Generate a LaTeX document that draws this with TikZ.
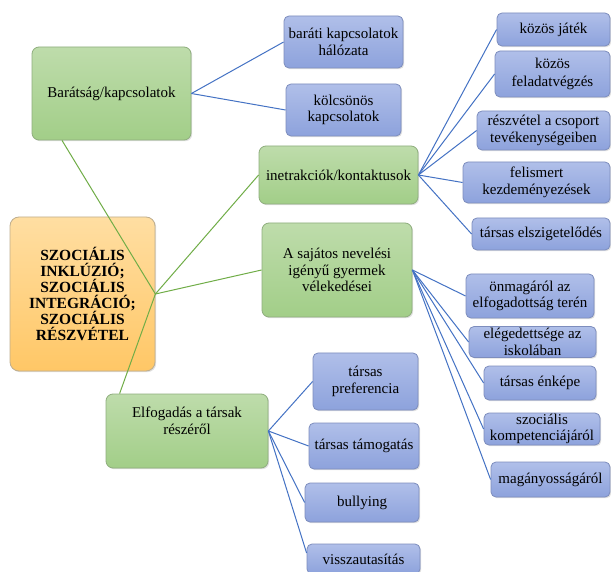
\documentclass[tikz,border=0pt]{standalone}
\usepackage{fontspec}
\setmainfont{Liberation Serif}
\usetikzlibrary{shadows}
\definecolor{gtop}{HTML}{BEDCAB}
\definecolor{gbot}{HTML}{A2CE88}
\definecolor{gline}{HTML}{8FAE7E}
\definecolor{btop}{HTML}{B0BFE9}
\definecolor{bbot}{HTML}{8DA2DC}
\definecolor{bline}{HTML}{7D8DBD}
\definecolor{otop}{HTML}{FFDEA2}
\definecolor{obot}{HTML}{FFC766}
\definecolor{oline}{HTML}{BFAE8E}
\definecolor{conblue}{HTML}{4472C4}
\definecolor{congreen}{HTML}{70AD47}
\tikzset{
  basebox/.style={rounded corners=7pt, align=center, inner sep=0pt,
    font=\fontsize{15}{16.5}\selectfont, text=black,
    drop shadow={opacity=0.25, shadow xshift=1.2pt, shadow yshift=-1.2pt}},
  gbox/.style={basebox, draw=gline, top color=gtop, bottom color=gbot, line width=0.8pt},
  bbox/.style={basebox, draw=bline, top color=btop, bottom color=bbot, line width=0.8pt, rounded corners=5pt},
  obox/.style={basebox, draw=oline, top color=otop, bottom color=obot, line width=0.8pt, rounded corners=9pt,
    font=\fontsize{15.5}{15.5}\selectfont\bfseries},
  bcon/.style={draw=conblue, line width=1pt},
  gcon/.style={draw=congreen, line width=1pt}
}
\begin{document}
\begin{tikzpicture}[x=1pt,y=-1pt]
\clip (0,0) rectangle (611,572);
\fill[white] (0,0) rectangle (611,572);
% main level
\node[obox, minimum width=145, minimum height=154] (sz) at (82.5,294) {SZOCIÁLIS\\INKLÚZIÓ;\\SZOCIÁLIS\\INTEGRÁCIÓ;\\SZOCIÁLIS\\RÉSZVÉTEL};
\node[gbox, minimum width=159, minimum height=93] (bar) at (111.5,93.5) {Barátság/kapcsolatok};
\node[gbox, minimum width=159, minimum height=58] (ik) at (338.5,175) {inetrakciók/kontaktusok};
\node[gbox, minimum width=150, minimum height=94] (sn) at (337,270) {A sajátos nevelési\\igényű gyermek\\vélekedései};
\node[gbox, minimum width=162, minimum height=74] (el) at (187,431) {Elfogadás a társak\\részéről\\[4pt]};
% Barátság children
\node[bbox, minimum width=119, minimum height=52] (bh) at (343.5,42) {baráti kapcsolatok\\hálózata};
\node[bbox, minimum width=115, minimum height=52] (kk) at (343.5,110) {kölcsönös\\kapcsolatok};
% interakciók children
\node[bbox, minimum width=113, minimum height=33] (kj) at (553.5,29.5) {közös játék};
\node[bbox, minimum width=115, minimum height=46, font=\fontsize{15}{18}\selectfont] (kf) at (552.5,74) {közös\\feladatvégzés};
\node[bbox, minimum width=133, minimum height=39] (rv) at (543.5,130.5) {részvétel a csoport\\tevékenységeiben};
\node[bbox, minimum width=147, minimum height=41] (fk) at (536.5,182.5) {felismert\\kezdeményezések};
\node[bbox, minimum width=138, minimum height=32] (te) at (541,234) {társas elszigetelődés};
% vélekedései children
\node[bbox, minimum width=128, minimum height=44] (on) at (530,296) {önmagáról az\\elfogadottság terén};
\node[bbox, minimum width=127, minimum height=31] (eg) at (532.5,342) {elégedettsége az\\iskolában};
\node[bbox, minimum width=112, minimum height=34] (en) at (540,383) {társas énképe};
\node[bbox, minimum width=116, minimum height=32] (sk) at (542,429) {szociális\\kompetenciájáról};
\node[bbox, minimum width=119, minimum height=35] (ma) at (550.5,479.5) {magányosságáról};
% Elfogadás children
\node[bbox, minimum width=105, minimum height=57] (tp) at (365.5,381.5) {társas\\preferencia};
\node[bbox, minimum width=110, minimum height=46] (tt) at (364,446) {társas támogatás};
\node[bbox, minimum width=114, minimum height=39] (bu) at (362,502.5) {bullying};
\node[bbox, minimum width=113, minimum height=30] (vi) at (363.5,559) {visszautasítás};
% connectors from the centre
\draw[gcon] (sz.east) -- ([xshift=-49.5pt]bar.south);
\draw[gcon] (sz.east) -- (ik.west);
\draw[gcon] (sz.east) -- (sn.west);
\draw[gcon] (sz.east) -- ([xshift=14pt]el.north west);
% branches
\draw[bcon] (bar.east) -- (bh.west);
\draw[bcon] (bar.east) -- (kk.west);
\foreach \t in {kj,kf,rv,fk,te} \draw[bcon] (ik.east) -- (\t.west);
\foreach \t in {on,eg,en,sk,ma} \draw[bcon] (sn.east) -- (\t.west);
\foreach \t in {tp,tt,bu} \draw[bcon] (el.east) -- (\t.west);
\draw[bcon] (el.east) -- ([yshift=6pt]vi.west);
\end{tikzpicture}
\end{document}
